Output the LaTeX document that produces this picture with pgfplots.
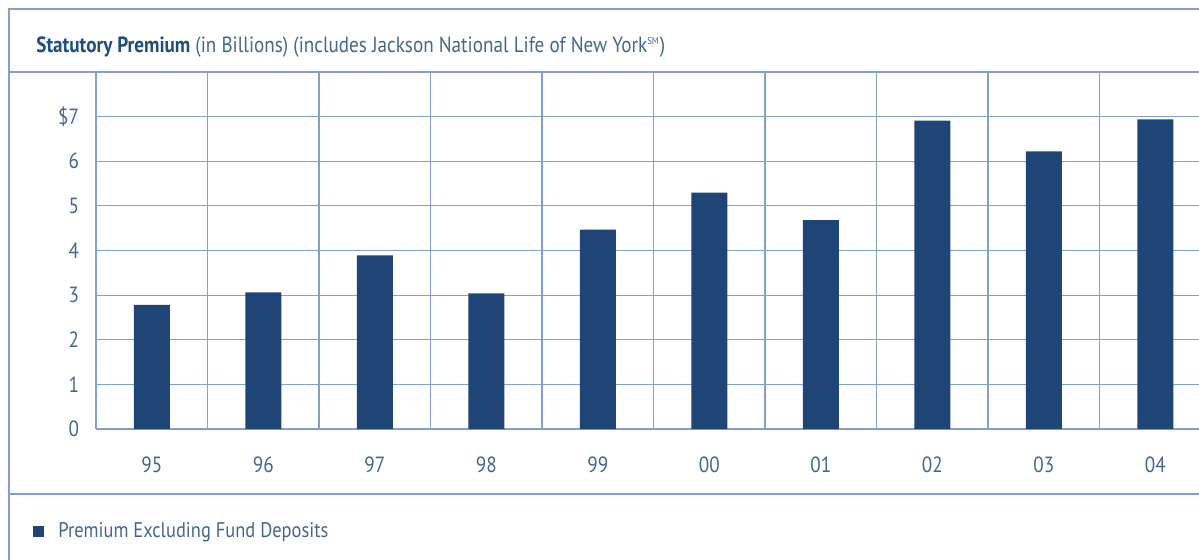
\documentclass[border=0pt]{standalone}
\usepackage{pgfplots}
\pgfplotsset{compat=1.18}
\usepackage{fontspec}
\setmainfont[FakeStretch=0.87]{PT Sans}
\definecolor{barblue}{HTML}{1F4577}
\definecolor{gridblue}{HTML}{7FA1CB}
\definecolor{textblue}{HTML}{44668F}
\definecolor{titleblue}{HTML}{1D4E7E}

\begin{document}
\begin{tikzpicture}[x=0.5pt,y=0.5pt]
\useasboundingbox (0,0) rectangle (1199,559);
\begin{scope}
\clip (0,0) rectangle (1199,559);
% panel frame and band separators
\draw[gridblue, line width=0.7pt] (9,-20) -- (9,550) -- (1250,550);
\draw[gridblue, line width=0.6pt] (9,487) -- (1250,487);
\draw[gridblue, line width=0.6pt] (9,65) -- (1250,65);
% title
\node[anchor=base west, inner sep=0pt, font=\fontsize{11}{13}\selectfont]
  at (36,507) {\textcolor{titleblue}{\bfseries Statutory Premium} \textcolor{textblue}{(in Billions) (includes Jackson National Life of New York\textsuperscript{\tiny SM})}};
\begin{axis}[
  at={(48pt,65pt)}, anchor=south west,
  scale only axis, width=557.5pt, height=178.5pt,
  xmin=-0.5, xmax=9.5, ymin=0, ymax=8,
  axis line style={draw=none},
  tick style={draw=none},
  xtick={0,...,9},
  xticklabels={95,96,97,98,99,00,01,02,03,04},
  minor xtick={-0.5,0.5,...,9.5},
  xminorgrids,
  ytick={0,...,7},
  yticklabels={0,1,2,3,4,5,6,\$7},
  ymajorgrids,
  grid style={gridblue, line width=0.6pt},
  minor grid style={gridblue, line width=0.7pt},
  ticklabel style={font=\fontsize{11}{13}\selectfont, text=textblue},
  /pgf/number format/assume math mode=true,
  xticklabel style={anchor=center, yshift=-18pt},
  yticklabel style={anchor=east, xshift=-5pt},
  clip=false,
  legend style={at={(-0.0565,-0.287)}, anchor=west, draw=none, fill=none,
    inner sep=0pt, font=\fontsize{10.6}{13}\selectfont, text=textblue,
    cells={anchor=west}},
  legend image code/.code={%
    \fill[barblue, draw=none] (0pt,-2.75pt) rectangle (5.5pt,2.75pt);
    \path[draw=none, fill=none] (0pt,0pt) -- (10.5pt,0pt);},
]
\addplot[ybar, bar width=18pt, fill=barblue, draw=none]
  coordinates {(0,2.78) (1,3.06) (2,3.89) (3,3.04) (4,4.47)
               (5,5.30) (6,4.68) (7,6.91) (8,6.22) (9,6.94)};
\addlegendentry{Premium Excluding Fund Deposits}
\end{axis}
\end{scope}
\end{tikzpicture}
\end{document}
